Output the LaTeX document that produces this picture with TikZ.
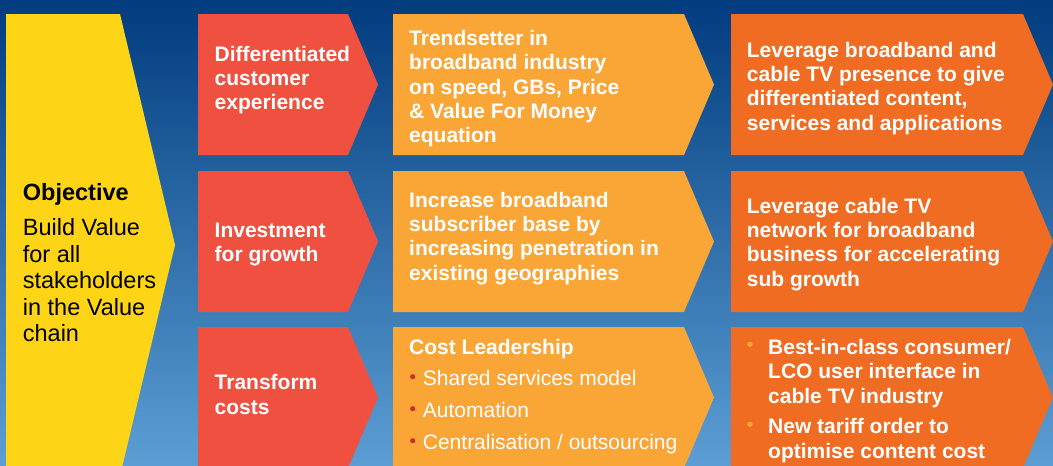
\documentclass[tikz,border=0pt]{standalone}
\usepackage{fontspec}
\setmainfont{Liberation Sans}
\setsansfont{Liberation Sans}
\definecolor{bgtop}{HTML}{013C7E}
\definecolor{bgbot}{HTML}{5C9ED4}
\definecolor{objyellow}{HTML}{FDD516}
\definecolor{driverred}{HTML}{F05040}
\definecolor{lightorange}{HTML}{F9A637}
\definecolor{deeporange}{HTML}{F06C23}
\definecolor{dotred}{HTML}{C8312B}
\tikzset{
  boxtext/.style={anchor=north west, inner sep=0pt, align=left, text=white,
    font=\fontsize{21}{24.3}\selectfont\bfseries},
  plaintext/.style={boxtext, font=\fontsize{21}{24.3}\selectfont},
  objtext/.style={anchor=north west, inner sep=0pt, align=left, text=black,
    font=\fontsize{23.5}{26.5}\selectfont}
}

\begin{document}
\begin{tikzpicture}[x=1pt, y=-1pt]
\useasboundingbox (0,0) rectangle (1053,466);
\clip (0,0) rectangle (1053,466);
\shade[top color=bgtop, bottom color=bgbot] (0,0) rectangle (1053,466);
% objective arrow
\fill[objyellow] (6,14) -- (120,14) -- (175,245) -- (120,476) -- (6,476) -- cycle;
% three rows of chevrons
\foreach \ry in {14,171,327} {
  \foreach \xl/\xr/\col in {198/348/driverred, 393/684/lightorange, 731/1023/deeporange}
    \fill[\col] (\xl,\ry) -- (\xr,\ry) -- (\xr+30,\ry+70.5) -- (\xr,\ry+141) -- (\xl,\ry+141) -- cycle;
}
\node[objtext, font=\fontsize{23.5}{26.5}\selectfont\bfseries] (objhead) at (22.7,183.5) {Objective};
\node[objtext] (objbody) at (22.7,218.3) {Build Value\\for all\\stakeholders\\in the Value\\chain};
% drivers
\node[boxtext] (drv1) at (214.5,45.7) {Differentiated\\customer\\experience};
\node[boxtext] (drv2) at (214.5,222.7) {Investment\\for growth};
\node[boxtext] (drv3) at (214.5,374.3) {Transform\\costs};
% strategy
\node[boxtext] (str1) at (409,30) {Trendsetter in\\broadband industry\\on speed, GBs, Price\\\& Value For Money\\equation};
\node[boxtext] (str2) at (409,191.7) {Increase broadband\\subscriber base by\\increasing penetration in\\existing geographies};
\node[boxtext] (str3) at (409,339) {Cost Leadership};
\foreach \n/\yy/\txt in {1/370/Shared services model, 2/402/Automation, 3/434/{Centralisation / outsourcing}} {
  \fill[dotred] (412.7,\yy+6.7) circle (2.6pt);
  \node[plaintext] (cost\n) at (422.7,\yy) {\txt};
}
% leverage
\node[boxtext] (lev1) at (746.7,41.7) {Leverage broadband and\\cable TV presence to give\\differentiated content,\\services and applications};
\node[boxtext] (lev2) at (746.7,197.7) {Leverage cable TV\\network for broadband\\business for accelerating\\sub growth};
\fill[lightorange] (750,344.3) circle (2.7pt);
\node[boxtext] (lev3a) at (768,339) {Best-in-class consumer/\\LCO user interface in\\cable TV industry};
\fill[lightorange] (750,424.3) circle (2.7pt);
\node[boxtext] (lev3b) at (768,418.3) {New tariff order to\\optimise content cost};
\end{tikzpicture}
\end{document}
